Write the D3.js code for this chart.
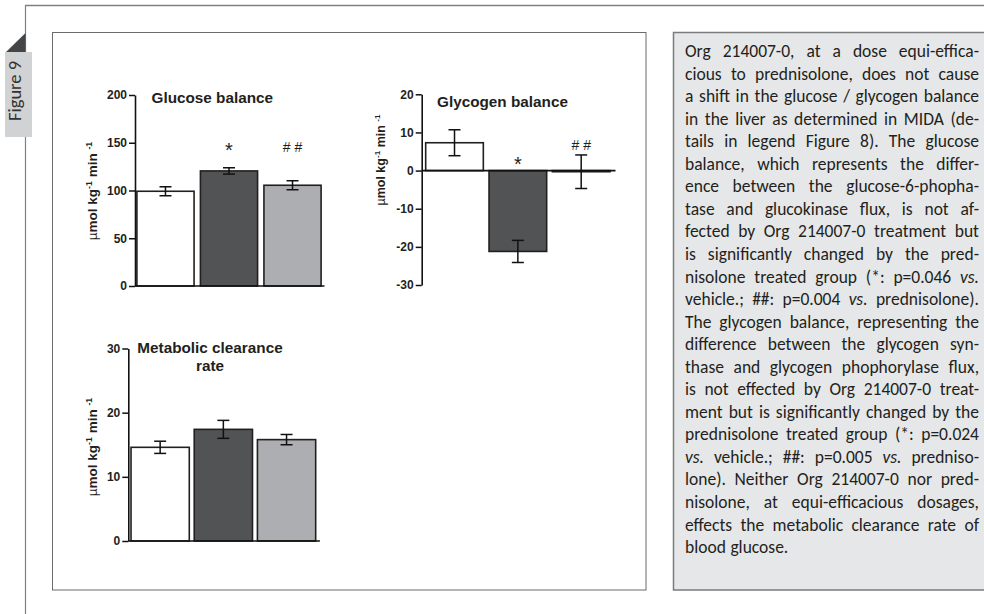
<!DOCTYPE html>
<html><head><meta charset="utf-8">
<script src="https://cdn.jsdelivr.net/npm/d3@7"></script>
<style>html,body{margin:0;padding:0;background:#fff}svg{display:block}</style>
</head><body>
<svg id="c" width="984" height="614"></svg>
<script>
// ---------- data ----------
const groups = ["Vehicle", "Org 214007-0", "Prednisolone"];
const barColors = ["#ffffff", "#525355", "#adaeb1"];

const glucoseMean = [99.2, 120.5, 105.5];
const glucoseErr = [4.7, 3.3, 4.7];
const glucoseSig = ["", "*", "# #"];
const glucoseTicks = [0, 50, 100, 150, 200];

const glycogenMean = [7.3, -21.2, -0.3];
const glycogenErr = [3.4, 2.9, 4.4];
const glycogenSig = ["", "*", "# #"];
const glycogenTicks = [-30, -20, -10, 0, 10, 20];

const mcrMean = [14.6, 17.4, 15.8];
const mcrErr = [0.95, 1.4, 0.8];
const mcrSig = ["", "", ""];
const mcrTicks = [0, 10, 20, 30];

const textLines = [
"Org 214007-0, at a dose equi-effica-",
"cious to prednisolone, does not cause",
"a shift in the glucose / glycogen balance",
"in the liver as determined in MIDA (de-",
"tails in legend Figure 8). The glucose",
"balance, which represents the differ-",
"ence between the glucose-6-phopha-",
"tase and glucokinase flux, is not af-",
"fected by Org 214007-0 treatment but",
"is significantly changed by the pred-",
"nisolone treated group (*: p=0.046 vs.",
"vehicle.; ##: p=0.004 vs. prednisolone).",
"The glycogen balance, representing the",
"difference between the glycogen syn-",
"thase and glycogen phophorylase flux,",
"is not effected by Org 214007-0 treat-",
"ment but is significantly changed by the",
"prednisolone treated group (*: p=0.024",
"vs. vehicle.; ##: p=0.005 vs. predniso-",
"lone). Neither Org 214007-0 nor pred-",
"nisolone, at equi-efficacious dosages,",
"effects the metabolic clearance rate of",
"blood glucose."
];

// ---------- drawing ----------
const svg = d3.select("#c");
const ARIAL = "'Liberation Sans', Arial, sans-serif";
const BODY = "Carlito, Lato, 'Open Sans', sans-serif";

// page frame
svg.append("line").attr("x1", 25).attr("x2", 984).attr("y1", 5.5).attr("y2", 5.5)
  .attr("stroke", "#808080").attr("stroke-width", 1.5);
svg.append("line").attr("x1", 25.5).attr("x2", 25.5).attr("y1", 5).attr("y2", 614)
  .attr("stroke", "#808080").attr("stroke-width", 1.2);

// figure tab
svg.append("path").attr("d", "M6,52 L25.5,33 L25.5,52 Z").attr("fill", "#444547");
svg.append("rect").attr("x", 5).attr("y", 52).attr("width", 27).attr("height", 85).attr("fill", "#d1d2d4");
svg.append("text").attr("transform", "translate(21,91) rotate(-90)")
  .attr("text-anchor", "middle").attr("font-family", BODY).attr("font-size", 18.5)
  .attr("fill", "#333").text("Figure 9");

// chart box
svg.append("rect").attr("x", 52.5).attr("y", 32.5).attr("width", 593.5).attr("height", 557.5)
  .attr("fill", "#fff").attr("stroke", "#6b6b6b").attr("stroke-width", 1);

// text box
svg.append("rect").attr("x", 673.5).attr("y", 32.5).attr("width", 320).attr("height", 557.5)
  .attr("fill", "#e6e7e8").attr("stroke", "#7a7b7d").attr("stroke-width", 1.5);

function panel(cfg) {
  const g = svg.append("g");
  const y = d3.scaleLinear().domain(cfg.domain).range([cfg.yBottom, cfg.yTop]);
  const x = d3.scaleBand().domain(groups).range([cfg.axisX, cfg.xEnd])
    .paddingInner(cfg.pi).paddingOuter(cfg.po);
  const data = cfg.mean.map((m, i) => ({ g: groups[i], m, e: cfg.err[i], s: cfg.sig[i], c: barColors[i] }));

  // bars
  g.selectAll("rect.bar").data(data).join("rect").attr("class", "bar")
    .attr("x", d => x(d.g)).attr("width", x.bandwidth())
    .attr("y", d => y(Math.max(0, d.m))).attr("height", d => Math.abs(y(d.m) - y(0)))
    .attr("fill", d => d.c).attr("stroke", "#231f20").attr("stroke-width", 1.6);

  // x axis line (baseline)
  g.append("line").attr("x1", cfg.axisX).attr("x2", cfg.xEnd + 1.5)
    .attr("y1", y(0)).attr("y2", y(0)).attr("stroke", "#111").attr("stroke-width", 1.6);

  // error bars
  const cap = 6;
  const eb = g.selectAll("g.eb").data(data).join("g").attr("class", "eb")
    .attr("stroke", "#111").attr("stroke-width", 1.5);
  eb.append("line").attr("x1", d => x(d.g) + x.bandwidth() / 2).attr("x2", d => x(d.g) + x.bandwidth() / 2)
    .attr("y1", d => y(d.m - d.e)).attr("y2", d => y(d.m + d.e));
  eb.append("line").attr("x1", d => x(d.g) + x.bandwidth() / 2 - cap).attr("x2", d => x(d.g) + x.bandwidth() / 2 + cap)
    .attr("y1", d => y(d.m - d.e)).attr("y2", d => y(d.m - d.e));
  eb.append("line").attr("x1", d => x(d.g) + x.bandwidth() / 2 - cap).attr("x2", d => x(d.g) + x.bandwidth() / 2 + cap)
    .attr("y1", d => y(d.m + d.e)).attr("y2", d => y(d.m + d.e));

  // y axis
  const ax = g.append("g").attr("transform", `translate(${cfg.axisX},0)`)
    .call(d3.axisLeft(y).tickValues(cfg.ticks).tickSize(6).tickSizeOuter(0).tickPadding(2).tickFormat(d => String(d)));
  ax.select(".domain").attr("stroke", "#111").attr("stroke-width", 1.6);
  ax.selectAll(".tick line").attr("stroke", "#111").attr("stroke-width", 1.5);
  ax.selectAll(".tick text").attr("font-family", ARIAL).attr("font-weight", "bold")
    .attr("font-size", 12).attr("fill", "#231f20");

  // significance marks
  const maxTop = d3.max(data, d => d.m + d.e);
  g.selectAll("text.sig").data(data.filter(d => d.s)).join("text").attr("class", "sig")
    .attr("x", d => x(d.g) + x.bandwidth() / 2)
    .attr("y", d => {
      const lvl = cfg.sigCommon ? y(maxTop) - cfg.sigGap : y(Math.max(0, d.m + d.e)) - cfg.sigGap;
      return d.s === "*" ? lvl : lvl - 5.5;
    })
    .attr("text-anchor", "middle").attr("font-family", ARIAL)
    .attr("font-size", d => d.s === "*" ? 20 : 14).attr("fill", "#231f20")
    .text(d => d.s);

  // title
  const t = g.append("text").attr("font-family", ARIAL).attr("font-weight", "bold")
    .attr("font-size", 15.3).attr("fill", "#231f20")
    .attr("text-anchor", cfg.titleAnchor).attr("x", cfg.titleX).attr("y", cfg.titleY);
  cfg.title.forEach((line, i) => t.append("tspan").attr("x", cfg.titleX).attr("dy", i ? 18 : 0).text(line));

  // y label
  const yl = g.append("text").attr("transform", `translate(${cfg.labelX},${cfg.labelY}) rotate(-90)`)
    .attr("text-anchor", "middle").attr("font-family", ARIAL).attr("font-weight", "bold")
    .attr("font-size", cfg.labelSize).attr("fill", "#231f20");
  yl.append("tspan").attr("font-weight", "normal").text("\u00B5");
  yl.append("tspan").text("mol kg");
  yl.append("tspan").attr("font-size", cfg.labelSize * 0.65).attr("dy", -cfg.labelSize * 0.4).text("-1");
  yl.append("tspan").attr("dy", cfg.labelSize * 0.4).text(" min ");
  yl.append("tspan").attr("font-size", cfg.labelSize * 0.65).attr("dy", -cfg.labelSize * 0.4).text("-1");
}

panel({ mean: glucoseMean, err: glucoseErr, sig: glucoseSig, ticks: glucoseTicks,
  domain: [0, 200], yBottom: 286, yTop: 95, axisX: 135, xEnd: 323, pi: 0.1, po: 0.03,
  sigCommon: true, sigGap: 10.5,
  title: ["Glucose balance"], titleX: 151.5, titleY: 103, titleAnchor: "start",
  labelX: 97, labelY: 191, labelSize: 13.5 });

panel({ mean: glycogenMean, err: glycogenErr, sig: glycogenSig, ticks: glycogenTicks,
  domain: [-30, 20], yBottom: 285, yTop: 94.3, axisX: 421.7, xEnd: 614, pi: 0.09, po: 0.063,
  sigCommon: false, sigGap: -0.5,
  title: ["Glycogen balance"], titleX: 437, titleY: 107, titleAnchor: "start",
  labelX: 385, labelY: 160, labelSize: 12.5 });

panel({ mean: mcrMean, err: mcrErr, sig: mcrSig, ticks: mcrTicks,
  domain: [0, 30], yBottom: 541, yTop: 348.5, axisX: 128.3, xEnd: 318.4, pi: 0.078, po: 0.043,
  sigCommon: true, sigGap: 10,
  title: ["Metabolic clearance", "rate"], titleX: 210, titleY: 353, titleAnchor: "middle",
  labelX: 97, labelY: 447, labelSize: 13.5 });

// justified body text
const tx0 = 685, tx1 = 979, ty0 = 57, lh = 22.55;
const tg = svg.append("g").attr("font-family", BODY).attr("font-size", 17.5).attr("fill", "#231f20");
textLines.forEach((line, li) => {
  const words = line.split(" ");
  const els = words.map(w => tg.append("text").attr("y", ty0 + li * lh)
    .attr("font-style", w === "vs." ? "italic" : "normal").text(w));
  const widths = els.map(e => e.node().getComputedTextLength());
  const last = li === textLines.length - 1;
  const spaceW = 4.5;
  const gap = (last || words.length < 2) ? spaceW
    : (tx1 - tx0 - d3.sum(widths)) / (words.length - 1);
  let xx = tx0;
  els.forEach((e, i) => { e.attr("x", xx); xx += widths[i] + gap; });
});
</script>
</body></html>
